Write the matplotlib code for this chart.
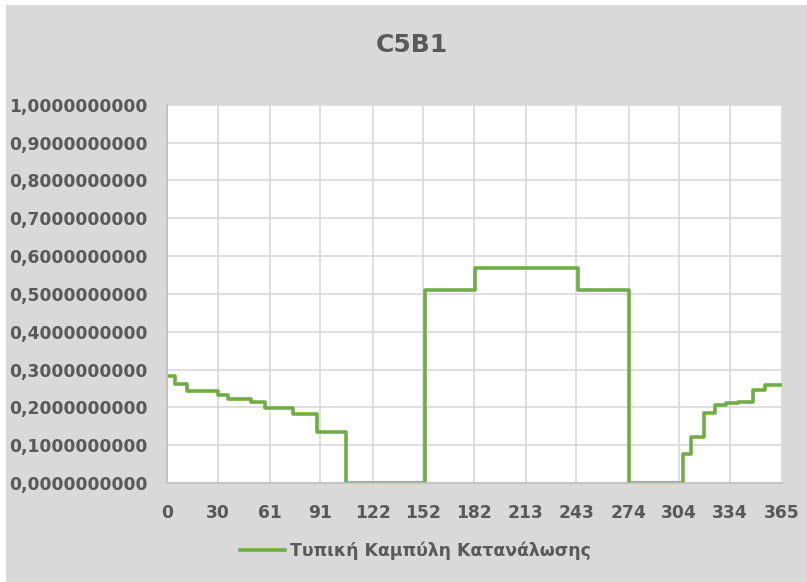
import matplotlib
matplotlib.use("Agg")
import matplotlib.pyplot as plt
from matplotlib.ticker import FuncFormatter
from matplotlib.patches import Rectangle

# step breakpoints (day) and value that holds from that day on
days = [0, 5, 12, 30, 36, 50, 58, 75, 89, 106, 153, 183, 244, 274,
        306, 311, 319, 325, 332, 339, 348, 355, 365]
values = [0.284, 0.261, 0.244, 0.233, 0.222, 0.215, 0.198, 0.182, 0.136, 0.0,
          0.511, 0.568, 0.511, 0.0, 0.077, 0.123, 0.184, 0.206, 0.212, 0.215,
          0.246, 0.259, 0.259]
xticks = [0, 30, 61, 91, 122, 152, 182, 213, 243, 274, 304, 334, 365]
yticks = [0.0, 0.1, 0.2, 0.3, 0.4, 0.5, 0.6, 0.7, 0.8, 0.9, 1.0]

title = "C5B1"
series_name = "Τυπική Καμπύλη Κατανάλωσης"

bg = "#d9d9d9"
txt = "#595959"
green = "#70ad47"

fig = plt.figure(figsize=(8.07, 5.82), dpi=100, facecolor=bg)
# thin white frame along the top and left edge of the screenshot
fig.patches.append(Rectangle((0, 1 - 5 / 582), 1, 5 / 582, transform=fig.transFigure,
                             facecolor="white", edgecolor="none", zorder=0))
fig.patches.append(Rectangle((0, 0), 6 / 807, 1, transform=fig.transFigure,
                             facecolor="white", edgecolor="none", zorder=0))

ax = fig.add_axes([0.207, 0.170, 0.762, 0.650])
ax.set_facecolor("white")

ax.step(days, values, where="post", color=green, linewidth=2.6, label=series_name)

ax.set_xlim(0, 365)
ax.set_ylim(0, 1.0)
ax.set_xticks(xticks)
ax.set_yticks(yticks)
ax.yaxis.set_major_formatter(FuncFormatter(lambda v, p: f"{v:.10f}".replace(".", ",")))
ax.grid(True, color=bg, linewidth=1.2)
ax.set_axisbelow(True)

for s in ["top", "right"]:
    ax.spines[s].set_visible(False)
for s in ["bottom", "left"]:
    ax.spines[s].set_color("#bfbfbf")
    ax.spines[s].set_linewidth(1.2)

ax.tick_params(axis="both", length=0, colors=txt, labelsize=12.3)
ax.tick_params(axis="y", pad=14)
ax.tick_params(axis="x", pad=15)
for lab in ax.get_xticklabels() + ax.get_yticklabels():
    lab.set_fontweight("bold")

fig.text(0.5105, 0.923, title, ha="center", va="center", fontsize=18,
         fontweight="bold", color=txt)

leg = fig.legend(loc="center", bbox_to_anchor=(0.515, 0.053), frameon=False,
                 fontsize=12.4, handlelength=2.6, handletextpad=0.3)
for t in leg.get_texts():
    t.set_color(txt)
    t.set_fontweight("bold")

fig.savefig("out.png", dpi=100, facecolor=bg)
